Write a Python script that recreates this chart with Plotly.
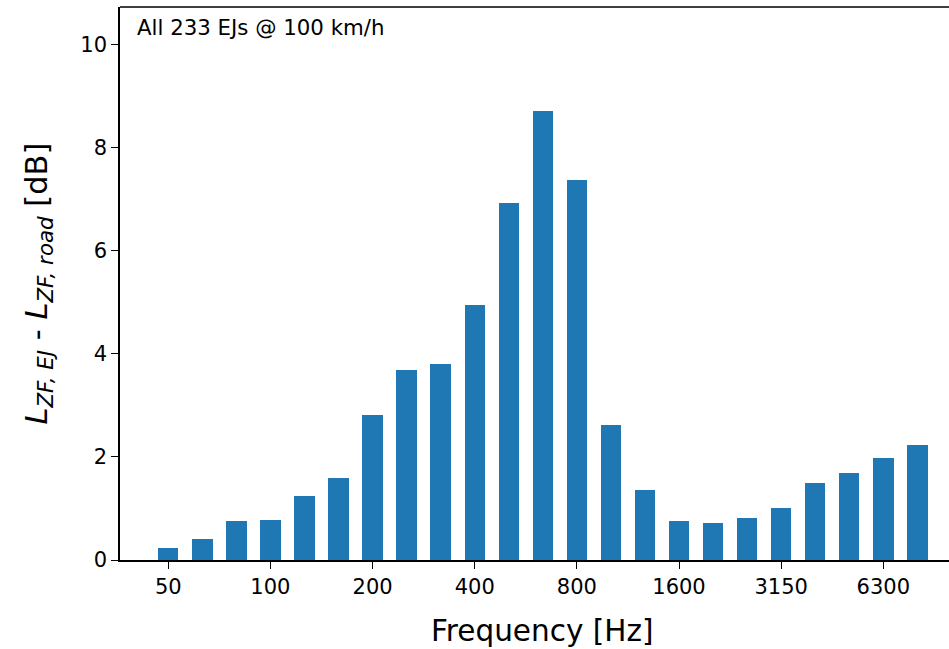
import plotly.graph_objects as go

bands = ["50", "63", "80", "100", "125", "160", "200", "250", "315", "400", "500", "630",
         "800", "1000", "1250", "1600", "2000", "2500", "3150", "4000", "5000", "6300", "8000"]
values = [0.24, 0.41, 0.76, 0.77, 1.25, 1.60, 2.82, 3.68, 3.81, 4.94, 6.92, 8.72,
          7.37, 2.62, 1.35, 0.75, 0.71, 0.82, 1.00, 1.50, 1.69, 1.98, 2.23]
tick_labels = ["50", "100", "200", "400", "800", "1600", "3150", "6300"]
tick_idx = [bands.index(t) for t in tick_labels]
x_idx = list(range(len(bands)))

FONT = "DejaVu Sans"

fig = go.Figure()
fig.add_trace(go.Bar(x=x_idx, y=values, width=0.6, marker=dict(color="#1f77b4", line=dict(width=0)),
                     showlegend=False))

fig.update_layout(
    width=949, height=649,
    margin=dict(l=120, r=0, t=7, b=89),
    paper_bgcolor="white", plot_bgcolor="white",
    font=dict(family=FONT, color="black", size=21),
    xaxis=dict(range=[-1.418, 22.93], tickmode="array", tickvals=tick_idx, ticktext=tick_labels,
               showline=True, linecolor="black", linewidth=1.5, ticks="outside", ticklen=7,
               tickwidth=1.3, tickcolor="black", showgrid=False, zeroline=False,
               tickfont=dict(size=21, family=FONT)),
    yaxis=dict(range=[0, 10.73], tickvals=[0, 2, 4, 6, 8, 10],
               showline=True, linecolor="black", linewidth=1.5, ticks="outside", ticklen=7,
               tickwidth=1.3, tickcolor="black", showgrid=False, zeroline=False,
               tickfont=dict(size=21, family=FONT)),
    bargap=0,
)
# top spine
fig.add_shape(type="line", xref="paper", yref="paper", x0=0, x1=1, y0=1, y1=1,
              line=dict(color="black", width=1.5))

fig.add_annotation(text="All 233 EJs @ 100 km/h", xref="paper", yref="paper", x=0, y=1,
                   xanchor="left", yanchor="top", xshift=15, yshift=-6, showarrow=False,
                   font=dict(size=21.3, family=FONT, color="black"))
fig.add_annotation(text="Frequency [Hz]", xref="paper", yref="paper", x=(541.5 - 120) / 829, y=0,
                   xanchor="center", yanchor="middle", yshift=-71, showarrow=False,
                   font=dict(size=29.5, family=FONT, color="black"))
fig.add_annotation(text="<i>L</i><sub><i>ZF, EJ</i></sub> - <i>L</i><sub><i>ZF, road</i></sub> [dB]",
                   xref="paper", yref="paper", x=0, y=(560.5 - 284) / 553, textangle=-90,
                   xanchor="center", yanchor="middle", xshift=-82, showarrow=False,
                   font=dict(size=30.5, family=FONT, color="black"))

fig.write_html("out.html")
